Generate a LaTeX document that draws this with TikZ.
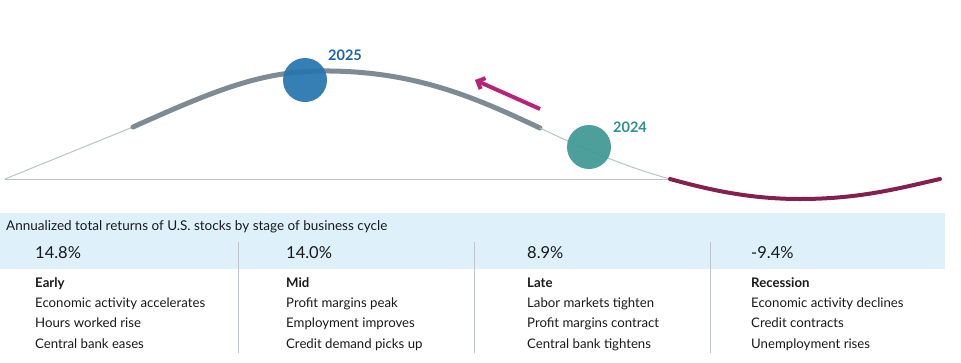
\documentclass[tikz,border=0pt]{standalone}
\usepackage{fontspec}
\setmainfont{Lato}
\usetikzlibrary{arrows.meta}

\definecolor{thinline}{HTML}{BBC1C6}
\definecolor{cyclegrey}{HTML}{7F8B94}
\definecolor{recmaroon}{HTML}{84204F}
\definecolor{arrowpink}{HTML}{B8237A}
\definecolor{blueyear}{HTML}{2675AE}
\definecolor{bluelabel}{HTML}{1A66A6}
\definecolor{tealyear}{HTML}{3F9895}
\definecolor{teallabel}{HTML}{2E8F8F}
\definecolor{bandblue}{HTML}{DEF0FA}
\definecolor{sepgrey}{HTML}{BFC5CA}
\definecolor{bodytext}{HTML}{1A1A1A}

\tikzstyle{yeardot} = [circle, minimum size=44pt, inner sep=0pt, opacity=0.93]
\tikzstyle{yearlabel} = [anchor=base west, inner sep=0pt, font=\fontsize{14.5}{16}\selectfont\bfseries]
\tikzstyle{pct} = [anchor=base west, inner sep=0pt, text=bodytext, font=\fontsize{16.5}{18}\selectfont]
\tikzstyle{stage} = [anchor=base west, inner sep=0pt, text=bodytext, font=\fontsize{13.2}{15}\selectfont\bfseries]
\tikzstyle{trait} = [anchor=base west, inner sep=0pt, text=bodytext, font=\fontsize{13.2}{15}\selectfont]
\tikzstyle{sep} = [sepgrey, line width=1pt]
\tikzstyle{arrow} = [arrowpink, line width=4pt, -{Straight Barb[length=6pt,width=12pt]}]

\begin{document}
\begin{tikzpicture}[x=1pt, y=-1pt]
\useasboundingbox (0,0) rectangle (961,362);

% cycle curve
\draw [thinline, line width=1pt] (5,179) -- (670,179);
\draw [thinline, line width=1pt] (5,179) -- (133,127);
\draw [cyclegrey, line width=5pt, line cap=round] (133,127) .. controls (220,88) and (265,70) .. (330,71)
  .. controls (420,72) and (480,100) .. (540,128);
\draw [thinline, line width=1pt] (540,128) .. controls (590,152) and (630,168) .. (670,179);
\draw [recmaroon, line width=4pt, line cap=round] (670,179) .. controls (710,190) and (750,199) .. (800,199)
  .. controls (860,199) and (900,188) .. (940,179);

% years
\node (dot2025) [yeardot, fill=blueyear] at (305,80) {};
\node (lab2025) [yearlabel, text=bluelabel] at (328,60) {2025};
\node (dot2024) [yeardot, fill=tealyear] at (589,147) {};
\node (lab2024) [yearlabel, text=teallabel] at (613,132) {2024};

\coordinate (tail) at (540,109);
\coordinate (head) at (475,80);
\draw [arrow] (tail) -- (head);

% table
\fill [bandblue] (0,213) rectangle (945,269);
\node (title) [trait, font=\fontsize{13.5}{15}\selectfont] at (6,230.5) {Annualized total returns of U.S. stocks by stage of business cycle};

\draw [sep] (238,242) -- (238,353);
\draw [sep] (474,242) -- (474,353);
\draw [sep] (710,242) -- (710,353);

\node (pEarly) [pct] at (35,258) {14.8\%};
\node (pMid) [pct] at (286,258) {14.0\%};
\node (pLate) [pct] at (527,258) {8.9\%};
\node (pRec) [pct] at (751,258) {-9.4\%};

\node (early) [stage] at (35,287) {Early};
\node (early1) [trait] at (35,307) {Economic activity accelerates};
\node (early2) [trait] at (35,327.5) {Hours worked rise};
\node (early3) [trait] at (35,348) {Central bank eases};

\node (mid) [stage] at (286,287) {Mid};
\node (mid1) [trait] at (286,307) {Profit margins peak};
\node (mid2) [trait] at (286,327.5) {Employment improves};
\node (mid3) [trait] at (286,348) {Credit demand picks up};

\node (late) [stage] at (527,287) {Late};
\node (late1) [trait] at (527,307) {Labor markets tighten};
\node (late2) [trait] at (527,327.5) {Profit margins contract};
\node (late3) [trait] at (527,348) {Central bank tightens};

\node (rec) [stage] at (751,287) {Recession};
\node (rec1) [trait] at (751,307) {Economic activity declines};
\node (rec2) [trait] at (751,327.5) {Credit contracts};
\node (rec3) [trait] at (751,348) {Unemployment rises};

\end{tikzpicture}
\end{document}
